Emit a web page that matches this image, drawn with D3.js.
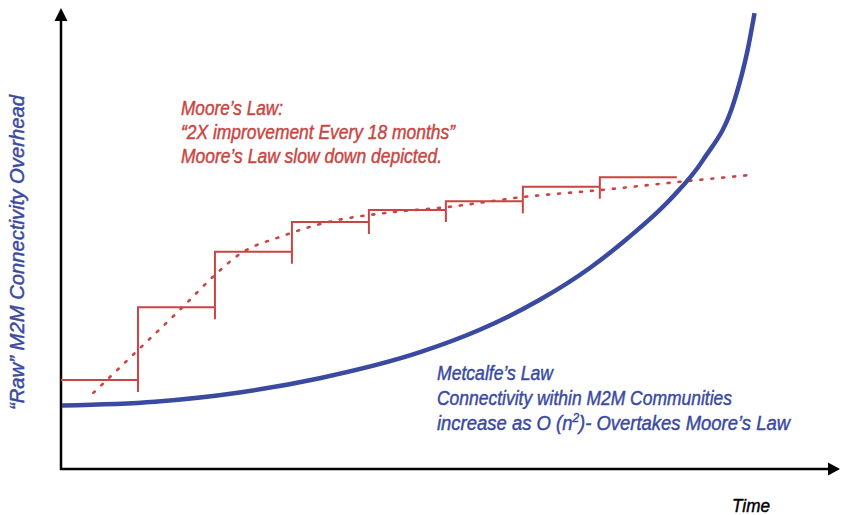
<!DOCTYPE html>
<html>
<head>
<meta charset="utf-8">
<script src="https://cdn.jsdelivr.net/npm/d3@7"></script>
<style>
  body { margin: 0; background: #fff; }
  svg text { font-family: "Liberation Sans Narrow", "Liberation Sans", Arial, sans-serif; font-style: italic; stroke-width: 0.45px; }
</style>
</head>
<body>
<svg width="841" height="515"></svg>
<script>
// time in 18-month periods, overhead in arbitrary units (0-100)
var stepBounds = [0, 1, 2, 3, 4, 5, 6, 7, 8];
var stepLevels = [19.3, 35.1, 47.1, 53.6, 56.2, 58.1, 61.2, 63.3];
var stepDrop = 2.6;

var mooreX = [0.42, 1.0, 1.58, 2.0, 2.32, 2.87, 3.43, 4.3, 5.01, 6.0, 7.0, 8.04, 8.97];
var mooreY = [16.5, 25.8, 35.1, 42.1, 46.6, 50.5, 53.4, 55.7, 56.8, 59.0, 60.5, 62.3, 63.8];

var metX = [0.013, 1.22, 2.32, 3.36, 4.675, 5.44, 6.22, 6.87, 7.35, 7.91, 8.34, 8.75, 8.92, 9.01];
var metY = [13.77, 14.6, 16.6, 19.7, 25.4, 30.2, 36.7, 43.6, 49.9, 58.4, 67.0, 80.0, 90.9, 98.9];

var mooreLines = ["Moore\u2019s Law:", "\u201c2X improvement Every 18 months\u201d", "Moore\u2019s Law slow down depicted."];
var mooreWidths = [102, 274, 261];
var metLines = ["Metcalfe\u2019s Law", "Connectivity within M2M Communities"];
var metWidths = [116, 295];

var red = "#c94543", blue = "#3a4aa0";

var x = d3.scaleLinear().domain([0, 10.12]).range([61, 840]);
var y = d3.scaleLinear().domain([0, 100]).range([469, 8]);

var svg = d3.select("svg");

// axes with arrow heads
svg.append("line")
  .attr("x1", x(0)).attr("y1", y(0) + 1)
  .attr("x2", x(0)).attr("y2", y(100) + 10)
  .attr("stroke", "#000").attr("stroke-width", 2.5);
svg.append("line")
  .attr("x1", x(0) - 1).attr("y1", y(0))
  .attr("x2", x(10.12) - 8).attr("y2", y(0))
  .attr("stroke", "#000").attr("stroke-width", 2.5);
svg.append("path")
  .attr("d", "M" + x(0) + "," + y(100) + "l-6.5,13h13z")
  .attr("fill", "#000");
svg.append("path")
  .attr("d", "M" + x(10.12) + "," + y(0) + "l-12,-6.5v13z")
  .attr("fill", "#000");

// Moore's law steps
var p = d3.path();
stepLevels.forEach(function (lv, i) {
  if (i === 0) p.moveTo(x(stepBounds[0]), y(lv));
  else {
    p.moveTo(x(stepBounds[i]), y(stepLevels[i - 1] - stepDrop));
    p.lineTo(x(stepBounds[i]), y(lv));
  }
  p.lineTo(x(stepBounds[i + 1]), y(lv));
});
svg.append("path")
  .attr("d", p.toString())
  .attr("fill", "none")
  .attr("stroke", red)
  .attr("stroke-width", 2);

var line = d3.line()
  .x(d => x(d[0]))
  .y(d => y(d[1]))
  .curve(d3.curveMonotoneX);

// Moore's law trend (dotted)
svg.append("path")
  .attr("d", line(d3.zip(mooreX, mooreY)))
  .attr("fill", "none")
  .attr("stroke", red)
  .attr("stroke-width", 2.6)
  .attr("stroke-linecap", "round")
  .attr("stroke-dasharray", "2,9");

// Metcalfe's law curve
svg.append("path")
  .attr("d", line(d3.zip(metX, metY)))
  .attr("fill", "none")
  .attr("stroke", blue)
  .attr("stroke-width", 4.5);

// labels
svg.selectAll(".moore")
  .data(mooreLines)
  .enter().append("text")
    .attr("class", "moore")
    .attr("x", 181)
    .attr("y", (d, i) => 115 + i * 24)
    .attr("fill", red)
    .attr("stroke", red)
    .attr("font-size", 20)
    .attr("textLength", (d, i) => mooreWidths[i])
    .attr("lengthAdjust", "spacingAndGlyphs")
    .text(d => d);

svg.selectAll(".met")
  .data(metLines)
  .enter().append("text")
    .attr("class", "met")
    .attr("x", 437)
    .attr("y", (d, i) => 380 + i * 25)
    .attr("fill", blue)
    .attr("stroke", blue)
    .attr("font-size", 20)
    .attr("textLength", (d, i) => metWidths[i])
    .attr("lengthAdjust", "spacingAndGlyphs")
    .text(d => d);

var t3 = svg.append("text")
  .attr("x", 437).attr("y", 430)
  .attr("fill", blue)
  .attr("stroke", blue)
  .attr("font-size", 20)
  .attr("textLength", 353)
  .attr("lengthAdjust", "spacingAndGlyphs");
t3.append("tspan").text("increase as O (n");
t3.append("tspan").attr("font-size", 13).attr("dy", -8).text("2");
t3.append("tspan").attr("dy", 8).text(")- Overtakes Moore\u2019s Law");

svg.append("text")
  .attr("transform", "translate(24,252.5) rotate(-90)")
  .attr("text-anchor", "middle")
  .attr("fill", blue)
  .attr("stroke", blue)
  .attr("font-size", 20)
  .attr("textLength", 315)
  .attr("lengthAdjust", "spacingAndGlyphs")
  .text("\u201cRaw\u201d M2M Connectivity Overhead");

svg.append("text")
  .attr("x", 732).attr("y", 512)
  .attr("fill", "#000")
  .attr("stroke", "#000")
  .attr("font-size", 19)
  .attr("textLength", 38)
  .attr("lengthAdjust", "spacingAndGlyphs")
  .text("Time");
</script>
</body>
</html>
